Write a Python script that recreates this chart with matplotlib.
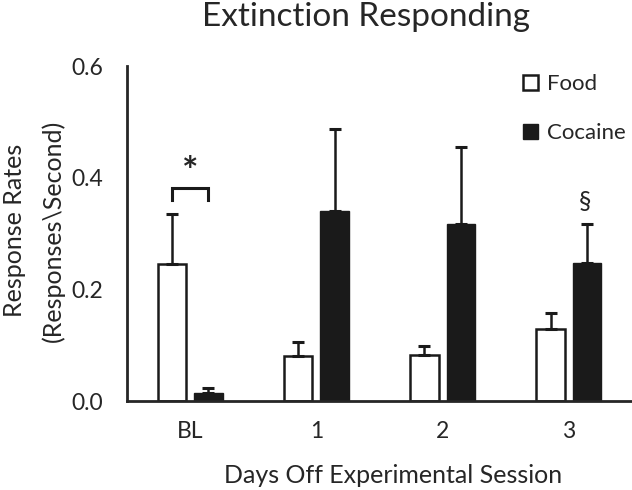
import numpy as np
import matplotlib
matplotlib.use("Agg")
import matplotlib.pyplot as plt

plt.rcParams['font.family'] = ['Lato', 'DejaVu Sans']

# data
days = ['BL', '1', '2', '3']
food = [0.246, 0.081, 0.083, 0.129]
food_err = [0.089, 0.025, 0.016, 0.029]
cocaine = [0.014, 0.340, 0.317, 0.247]
cocaine_err = [0.010, 0.147, 0.138, 0.070]

txt = '#262626'
x = np.arange(len(days))
w = 0.225
off = 0.145

fig = plt.figure(figsize=(6.32, 4.9), dpi=100)
ax = fig.add_axes([0.201, 0.181, 0.799, 0.684])

err_kw = dict(ecolor='#1a1a1a', elinewidth=1.8, capsize=4.5, capthick=2.2)
b1 = ax.bar(x - off, food, w, color='white', edgecolor='#1a1a1a', linewidth=1.8,
            yerr=[np.zeros(4), food_err], error_kw=err_kw, label='Food', zorder=2)
b2 = ax.bar(x + off, cocaine, w, color='#1a1a1a', edgecolor='#1a1a1a', linewidth=1.0,
            yerr=[np.zeros(4), cocaine_err], error_kw=err_kw, label='Cocaine', zorder=2)

# significance marks
ax.plot([-off, -off, off, off], [0.361, 0.381, 0.381, 0.361], color='#1a1a1a', lw=2.2,
        solid_joinstyle='miter', clip_on=False)
ax.text(0, 0.41, '*', ha='center', va='center', fontsize=28, fontweight='bold', color=txt)
ax.text(3 + 0.13, 0.357, '§', ha='center', va='center', fontsize=18, color=txt)

ax.set_xlim(-0.5, 3.5)
ax.set_ylim(0, 0.6)
ax.set_yticks([0.0, 0.2, 0.4, 0.6])
ax.set_yticklabels(['0.0', '0.2', '0.4', '0.6'])
ax.set_xticks(x)
ax.set_xticklabels(days)
ax.tick_params(axis='y', length=0, pad=17, labelsize=16.5, labelcolor=txt)
ax.tick_params(axis='x', length=0, pad=14, labelsize=16.5, labelcolor=txt)
for s in ['top', 'right']:
    ax.spines[s].set_visible(False)
for s in ['left', 'bottom']:
    ax.spines[s].set_linewidth(2)
    ax.spines[s].set_color('#262626')

ax.set_xlabel('Days Off Experimental Session', fontsize=18, color=txt, va='center')
ax.xaxis.set_label_coords(0.526, -0.22)
ax.set_ylabel('Response Rates\n(Responses\\Second)', fontsize=18, color=txt,
              linespacing=1.75, va='center', ha='center')
ax.yaxis.set_label_coords(-0.184, 0.51)
ax.set_title('Extinction Responding', fontsize=24, color=txt, x=0.473, y=1.119,
             va='baseline', pad=0)

ax.legend(handles=[b1, b2], loc='upper left', bbox_to_anchor=(0.744, 1.035), frameon=False,
          handlelength=0.7, handleheight=0.7, handletextpad=0.4, labelspacing=1.3,
          fontsize=16, labelcolor=txt)

fig.savefig('out.png', dpi=100)
